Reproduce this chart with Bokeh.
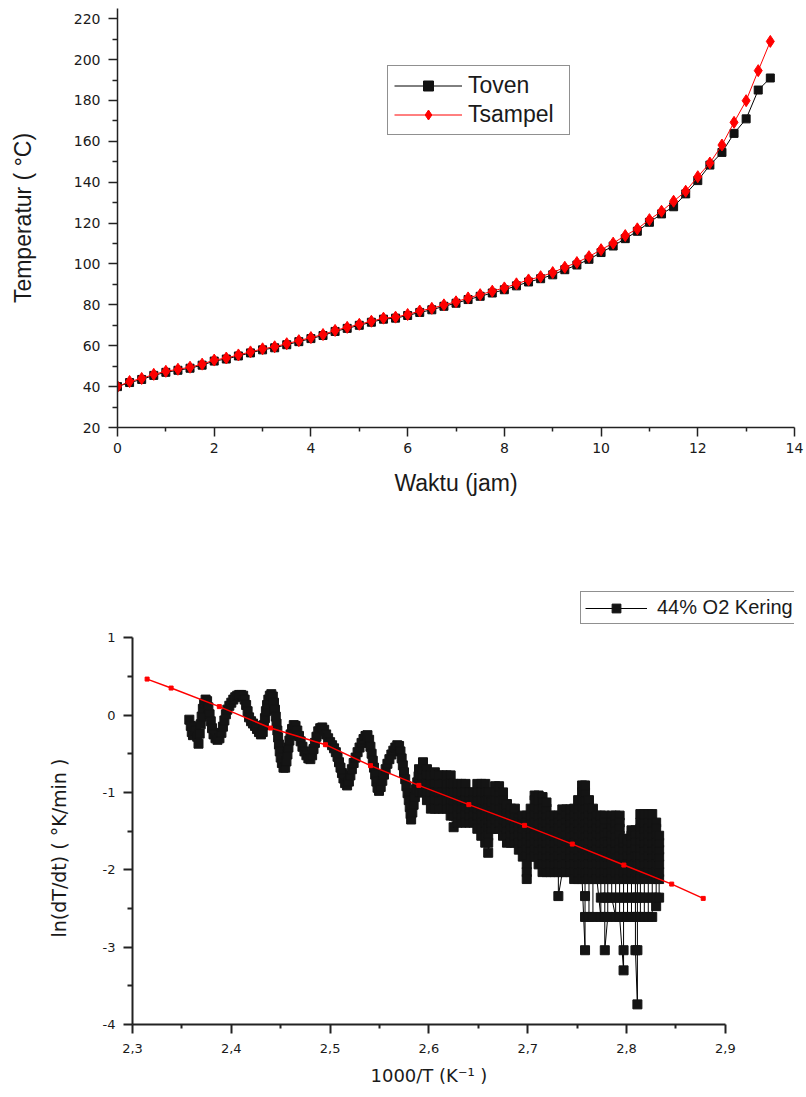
from bokeh.plotting import figure
from bokeh.models import Range1d, FixedTicker, Legend, LegendItem, CustomJSTickFormatter, Title
from bokeh.layouts import column
from bokeh.embed import file_html
from bokeh.resources import INLINE

# ---------------- top chart data ----------------
waktu = [0.0, 0.25, 0.5, 0.75, 1.0, 1.25, 1.5, 1.75, 2.0, 2.25, 2.5, 2.75, 3.0, 3.25, 3.5, 3.75,
         4.0, 4.25, 4.5, 4.75, 5.0, 5.25, 5.5, 5.75, 6.0, 6.25, 6.5, 6.75, 7.0, 7.25, 7.5, 7.75,
         8.0, 8.25, 8.5, 8.75, 9.0, 9.25, 9.5, 9.75, 10.0, 10.25, 10.5, 10.75, 11.0, 11.25, 11.5,
         11.75, 12.0, 12.25, 12.5, 12.75, 13.0, 13.25, 13.5]
toven = [40.0, 42.0, 43.5, 45.5, 47.0, 48.0, 49.0, 50.5, 52.5, 53.5, 55.0, 56.5, 58.0, 59.0, 60.5,
         62.0, 63.5, 65.0, 67.0, 68.5, 70.0, 71.5, 73.0, 73.5, 74.8, 76.3, 77.6, 79.3, 80.8, 82.6,
         84.2, 85.8, 87.4, 89.3, 91.2, 92.8, 94.7, 97.2, 99.5, 102.3, 105.6, 108.8, 112.4, 116.0,
         120.4, 124.5, 128.0, 134.3, 140.8, 148.4, 154.6, 163.9, 171.0, 185.1, 191.0]
tsampel = [40.0, 42.5, 44.0, 46.0, 47.5, 48.5, 49.5, 51.0, 53.0, 54.0, 55.5, 57.0, 58.5, 59.5, 61.0,
           62.5, 64.0, 65.5, 67.5, 69.0, 70.5, 72.0, 73.5, 74.0, 75.3, 77.0, 78.3, 80.0, 81.5, 83.4,
           85.0, 86.7, 88.3, 90.3, 92.2, 93.8, 95.8, 98.4, 100.7, 103.6, 107.0, 110.2, 113.9, 117.2,
           121.7, 125.8, 130.7, 135.6, 142.7, 149.4, 158.2, 169.3, 179.9, 194.6, 208.9]
top_xticks = [0, 2, 4, 6, 8, 10, 12, 14]
top_xminor = [1, 3, 5, 7, 9, 11, 13]
top_yticks = [20, 40, 60, 80, 100, 120, 140, 160, 180, 200, 220]
top_yminor = [30, 50, 70, 90, 110, 130, 150, 170, 190, 210]

# ---------------- bottom chart data ----------------
kering_left = [
    (2.3575, -0.06), (2.3590, -0.14), (2.3600, -0.22), (2.3612, -0.26), (2.3625, -0.15), (2.3640, -0.20),
    (2.3655, -0.28), (2.3668, -0.37), (2.3680, -0.24), (2.3690, -0.12), (2.3700, -0.02), (2.3712, 0.08),
    (2.3725, 0.15), (2.3740, 0.20), (2.3755, 0.18), (2.3768, 0.10), (2.3780, 0.01), (2.3792, -0.08),
    (2.3805, -0.17), (2.3820, -0.25), (2.3840, -0.30), (2.3860, -0.32), (2.3880, -0.30), (2.3900, -0.23),
    (2.3915, -0.15), (2.3930, -0.07), (2.3945, 0.01), (2.3960, 0.07), (2.3980, 0.12), (2.4000, 0.16),
    (2.4020, 0.20), (2.4040, 0.23), (2.4060, 0.25), (2.4080, 0.26), (2.4100, 0.26), (2.4120, 0.25),
    (2.4135, 0.20), (2.4150, 0.13), (2.4165, 0.05), (2.4180, -0.03), (2.4200, -0.08), (2.4220, -0.11),
    (2.4240, -0.14), (2.4260, -0.18), (2.4280, -0.22), (2.4300, -0.25), (2.4318, -0.22), (2.4330, -0.13),
    (2.4340, -0.04), (2.4350, 0.05), (2.4362, 0.13), (2.4375, 0.20), (2.4390, 0.25), (2.4405, 0.27),
    (2.4420, 0.24), (2.4432, 0.16), (2.4442, 0.07), (2.4450, -0.02), (2.4458, -0.11), (2.4466, -0.20),
    (2.4474, -0.29), (2.4482, -0.38), (2.4490, -0.47), (2.4500, -0.55), (2.4512, -0.62), (2.4528, -0.68),
    (2.4545, -0.68), (2.4558, -0.60), (2.4568, -0.51), (2.4578, -0.42), (2.4588, -0.33), (2.4600, -0.25),
    (2.4615, -0.18), (2.4632, -0.13), (2.4650, -0.14), (2.4668, -0.20), (2.4685, -0.27), (2.4702, -0.34),
    (2.4720, -0.41), (2.4740, -0.47), (2.4760, -0.52), (2.4780, -0.56), (2.4800, -0.57), (2.4818, -0.52),
    (2.4832, -0.44), (2.4846, -0.36), (2.4862, -0.28), (2.4880, -0.21), (2.4900, -0.17), (2.4920, -0.16),
    (2.4940, -0.19), (2.4960, -0.25), (2.4980, -0.30), (2.5000, -0.35), (2.5020, -0.39), (2.5040, -0.43),
    (2.5058, -0.48), (2.5075, -0.54), (2.5090, -0.61), (2.5105, -0.68), (2.5120, -0.75), (2.5135, -0.82),
    (2.5152, -0.88), (2.5172, -0.91), (2.5190, -0.86), (2.5205, -0.78), (2.5220, -0.70), (2.5238, -0.62),
    (2.5258, -0.55), (2.5278, -0.48), (2.5298, -0.42), (2.5318, -0.36), (2.5338, -0.31), (2.5358, -0.27),
    (2.5378, -0.26), (2.5395, -0.32), (2.5408, -0.41), (2.5420, -0.50), (2.5432, -0.59), (2.5444, -0.68),
    (2.5456, -0.77), (2.5468, -0.86), (2.5480, -0.94), (2.5495, -0.98), (2.5512, -0.93), (2.5528, -0.85),
    (2.5545, -0.77), (2.5562, -0.70), (2.5580, -0.63), (2.5600, -0.57), (2.5620, -0.51), (2.5640, -0.46),
    (2.5660, -0.42), (2.5680, -0.39), (2.5698, -0.40), (2.5712, -0.47), (2.5724, -0.56), (2.5736, -0.65),
    (2.5748, -0.74), (2.5760, -0.83), (2.5772, -0.92), (2.5784, -1.01), (2.5796, -1.10), (2.5806, -1.19),
    (2.5814, -1.28), (2.5820, -1.35), (2.5832, -1.26), (2.5845, -1.16), (2.5858, -1.06), (2.5870, -0.96),
    (2.5882, -0.87), (2.5895, -0.79),
]
# dense part: each entry is one 1000/T value with the successive ln(dT/dt) readings at it
kering_right_cols = [
    (2.590, [-0.70, -0.78, -0.89, -1.00]),
    (2.594, [-1.00, -0.89, -0.78, -0.70, -0.61]),
    (2.598, [-0.70, -0.78, -0.89, -1.00, -1.10]),
    (2.602, [-1.21, -1.10, -1.00, -0.89, -0.78]),
    (2.606, [-0.74, -0.89, -1.00, -1.10, -1.21]),
    (2.610, [-1.21, -1.10, -1.00, -0.89, -0.78]),
    (2.614, [-0.78, -0.89, -1.00, -1.10, -1.21]),
    (2.618, [-1.21, -1.10, -1.00, -0.89, -0.78]),
    (2.622, [-0.78, -0.89, -1.00, -1.10, -1.21, -1.30]),
    (2.625, [-1.45, -1.30, -1.21, -1.10, -1.00, -0.89]),
    (2.629, [-0.89, -1.00, -1.10, -1.21, -1.30, -1.39]),
    (2.633, [-1.39, -1.30, -1.21, -1.10, -1.00, -0.89]),
    (2.637, [-0.89, -1.00, -1.10, -1.21, -1.30, -1.39]),
    (2.641, [-1.39, -1.30, -1.21, -1.10, -1.00]),
    (2.645, [-1.00, -1.10, -1.21, -1.30, -1.39]),
    (2.649, [-1.47, -1.30, -1.21, -1.10, -1.00, -0.89]),
    (2.653, [-0.89, -1.00, -1.10, -1.21, -1.30, -1.39, -1.47, -1.56]),
    (2.657, [-1.65, -1.56, -1.47, -1.39, -1.30, -1.21, -1.10, -1.00, -0.89]),
    (2.660, [-1.00, -1.10, -1.21, -1.30, -1.39, -1.47, -1.56, -1.65, -1.78]),
    (2.663, [-1.47, -1.39, -1.30, -1.21, -1.13]),
    (2.667, [-0.92, -1.00, -1.10, -1.21, -1.30, -1.39, -1.47]),
    (2.671, [-1.47, -1.39, -1.30, -1.21, -1.10, -1.00, -0.92]),
    (2.675, [-1.00, -1.10, -1.21, -1.30, -1.39, -1.47, -1.56]),
    (2.679, [-1.65, -1.56, -1.47, -1.39, -1.30, -1.21, -1.15]),
    (2.683, [-1.21, -1.30, -1.39, -1.47, -1.56, -1.65]),
    (2.687, [-1.65, -1.56, -1.47, -1.39, -1.30, -1.21]),
    (2.691, [-1.34, -1.39, -1.47, -1.56, -1.65, -1.74]),
    (2.695, [-1.83, -1.74, -1.65, -1.56, -1.47, -1.39, -1.30]),
    (2.699, [-1.30, -1.39, -1.47, -1.56, -1.65, -1.74, -1.83, -1.93, -2.03, -2.12]),
    (2.703, [-1.83, -1.74, -1.65, -1.56, -1.47, -1.39, -1.30, -1.21]),
    (2.707, [-1.04, -1.10, -1.21, -1.30, -1.39, -1.47, -1.56, -1.65, -1.74, -1.83]),
    (2.711, [-1.93, -1.83, -1.74, -1.65, -1.56, -1.47, -1.39, -1.30, -1.21, -1.10, -1.04]),
    (2.715, [-1.06, -1.13, -1.21, -1.30, -1.39, -1.47, -1.56, -1.65, -1.74, -1.83, -1.93, -2.03]),
    (2.719, [-2.03, -1.93, -1.83, -1.74, -1.65, -1.56, -1.47, -1.39, -1.30, -1.21, -1.13]),
    (2.723, [-1.30, -1.39, -1.47, -1.56, -1.65, -1.74, -1.83, -1.93, -2.03]),
    (2.727, [-2.03, -1.93, -1.83, -1.74, -1.65, -1.56, -1.47, -1.39, -1.30]),
    (2.731, [-1.30, -1.39, -1.47, -1.56, -1.65, -1.74, -1.83, -1.93, -2.03, -2.34]),
    (2.735, [-2.03, -1.93, -1.83, -1.74, -1.65, -1.56, -1.47, -1.39, -1.30, -1.22]),
    (2.739, [-1.22, -1.30, -1.39, -1.47, -1.56, -1.65, -1.74, -1.83, -1.93, -2.03]),
    (2.743, [-2.03, -1.93, -1.83, -1.74, -1.65, -1.56, -1.47, -1.39, -1.30, -1.22]),
    (2.747, [-1.21, -1.30, -1.39, -1.47, -1.56, -1.65, -1.74, -1.83, -1.93, -2.03, -2.12]),
    (2.751, [-2.12, -2.03, -1.93, -1.83, -1.74, -1.65, -1.56, -1.47, -1.39, -1.30, -1.21, -1.10]),
    (2.755, [-0.91, -1.00, -1.10, -1.21, -1.30, -1.39, -1.47, -1.56, -1.65, -1.74, -1.83, -1.93, -2.03, -2.12]),
    (2.758, [-3.04, -2.61, -2.34, -2.12, -2.03, -1.93, -1.83, -1.74, -1.65, -1.56, -1.47, -1.39, -1.30,
             -1.21, -1.10, -1.00, -0.91]),
    (2.762, [-1.10, -1.21, -1.30, -1.39, -1.47, -1.56, -1.65, -1.74, -1.83, -1.93, -2.03, -2.12, -2.61]),
    (2.766, [-2.61, -2.12, -2.03, -1.93, -1.83, -1.74, -1.65, -1.56, -1.47, -1.39, -1.30, -1.21]),
    (2.770, [-1.30, -1.39, -1.47, -1.56, -1.65, -1.74, -1.83, -1.93, -2.03, -2.12]),
    (2.774, [-2.61, -2.36, -2.12, -2.03, -1.93, -1.83, -1.74, -1.65, -1.56, -1.47, -1.39, -1.30]),
    (2.778, [-1.30, -1.39, -1.47, -1.56, -1.65, -1.74, -1.83, -1.93, -2.03, -2.12, -2.36, -2.61, -3.04]),
    (2.781, [-2.61, -2.36, -2.12, -2.03, -1.93, -1.83, -1.74, -1.65, -1.56, -1.52]),
    (2.785, [-1.30, -1.39, -1.47, -1.56, -1.65, -1.74, -1.83, -1.93, -2.03, -2.12, -2.36]),
    (2.789, [-2.61, -2.36, -2.12, -2.03, -1.93, -1.83, -1.74, -1.65, -1.56, -1.47, -1.39, -1.30]),
    (2.793, [-1.30, -1.39, -1.47, -1.56, -1.65, -1.74, -1.83, -1.93, -2.03, -2.12, -2.36, -2.61]),
    (2.797, [-3.30, -3.04, -2.61, -2.36, -2.12, -2.03, -1.93, -1.83, -1.74, -1.65, -1.60]),
    (2.801, [-1.60, -1.65, -1.74, -1.83, -1.93, -2.03, -2.12, -2.36, -2.61]),
    (2.805, [-2.61, -2.36, -2.12, -2.03, -1.93, -1.83, -1.74, -1.65, -1.56, -1.49]),
    (2.809, [-1.49, -1.56, -1.65, -1.74, -1.83, -1.93, -2.03, -2.12, -2.36, -2.61, -3.04]),
    (2.811, [-3.74, -3.04, -2.61, -2.36, -2.12, -2.03, -1.93, -1.83]),
    (2.814, [-1.28, -1.39, -1.47, -1.56, -1.65, -1.74, -1.83, -1.93, -2.03, -2.12, -2.36, -2.61]),
    (2.818, [-2.61, -2.36, -2.12, -2.03, -1.93, -1.83, -1.74, -1.65, -1.56, -1.47, -1.39, -1.28]),
    (2.822, [-1.28, -1.39, -1.47, -1.56, -1.65, -1.74, -1.83, -1.93, -2.03, -2.36, -2.61]),
    (2.826, [-2.61, -2.36, -2.12, -2.03, -1.93, -1.83, -1.74, -1.65, -1.56, -1.47, -1.39, -1.28]),
    (2.830, [-1.39, -1.47, -1.56, -1.65, -1.74, -1.83, -1.93, -2.03, -2.12, -2.36, -2.47]),
    (2.833, [-2.36, -2.12, -2.03, -1.93, -1.83, -1.74, -1.65, -1.56]),
]
fit_x = [2.3148, 2.3391, 2.3879, 2.4397, 2.4953, 2.5409, 2.5898, 2.6404, 2.6968, 2.7451, 2.7973, 2.8457, 2.8776]
fit_y = [0.465, 0.349, 0.109, -0.168, -0.383, -0.654, -0.909, -1.158, -1.426, -1.668, -1.939, -2.185, -2.370]
bot_xticks = [2.3, 2.4, 2.5, 2.6, 2.7, 2.8, 2.9]
bot_xminor = [2.35, 2.45, 2.55, 2.65, 2.75, 2.85]
bot_yticks = [-4, -3, -2, -1, 0, 1]
bot_yminor = [-3.5, -2.5, -1.5, -0.5, 0.5]

inv_T = [pt[0] for pt in kering_left]
ln_rate = [pt[1] for pt in kering_left]
for cx, levels in kering_right_cols:
    for lv in levels:
        inv_T.append(cx)
        ln_rate.append(lv)

TXT = "#1a1a1a"
SANS = "Liberation Sans"


def style_axis(ax, size, tick_out, minor_out, lbl_standoff, axis_standoff, lw, label_font, label_size):
    ax.axis_line_color = "#222222"
    ax.axis_line_width = lw
    ax.major_tick_line_color = "#222222"
    ax.major_tick_line_width = lw
    ax.minor_tick_line_color = "#222222"
    ax.minor_tick_line_width = lw
    ax.major_tick_in = 0
    ax.major_tick_out = tick_out
    ax.minor_tick_in = 0
    ax.minor_tick_out = minor_out
    ax.major_label_text_font = "DejaVu Sans"
    ax.major_label_text_font_size = size
    ax.major_label_text_color = TXT
    ax.major_label_standoff = lbl_standoff
    ax.axis_label_text_font = label_font
    ax.axis_label_text_font_size = label_size
    ax.axis_label_text_font_style = "normal"
    ax.axis_label_text_color = TXT
    ax.axis_label_standoff = axis_standoff


# ---------------- top figure ----------------
p1 = figure(width=804, height=500, x_range=Range1d(0, 14), y_range=Range1d(20, 225),
            output_backend="svg", toolbar_location=None,
            min_border_left=117, min_border_right=10, min_border_top=8, min_border_bottom=73)
p1.outline_line_color = None
p1.xgrid.visible = False
p1.ygrid.visible = False

l_ov = p1.line(waktu, toven, line_color="black", line_width=1)
s_ov = p1.scatter(waktu, toven, marker="square", size=8, fill_color="#111111", line_color="#111111")
l_sa = p1.line(waktu, tsampel, line_color="#ff0000", line_width=1)
s_sa = p1.scatter(waktu, tsampel, marker="diamond", size=12, fill_color="#ff0000", line_color="#ff0000")

p1.xaxis.ticker = FixedTicker(ticks=top_xticks, minor_ticks=top_xminor)
p1.yaxis.ticker = FixedTicker(ticks=top_yticks, minor_ticks=top_yminor)
p1.xaxis.axis_label = "Waktu (jam)"
p1.yaxis.axis_label = "Temperatur ( °C)"
style_axis(p1.xaxis[0], "14px", 9, 4, 6, 14, 1.5, SANS, "23px")
style_axis(p1.yaxis[0], "14px", 9, 5, 8, 35, 1.5, SANS, "23px")

leg1 = Legend(items=[LegendItem(label="Toven", renderers=[l_ov, s_ov]),
                     LegendItem(label="Tsampel", renderers=[l_sa, s_sa])],
              location=(270, 292))
leg1.label_text_font = SANS
leg1.label_text_font_size = "23px"
leg1.label_text_color = TXT
leg1.glyph_width = 68
leg1.glyph_height = 25
leg1.label_height = 25
leg1.label_width = 95
leg1.label_standoff = 6
leg1.padding = 6
leg1.spacing = 2
leg1.margin = 0
leg1.border_line_color = "#222222"
leg1.border_line_width = 1.2
leg1.background_fill_color = "white"
leg1.background_fill_alpha = 1
p1.add_layout(leg1)

# ---------------- bottom figure ----------------
p2 = figure(width=789, height=595, x_range=Range1d(2.3, 2.970), y_range=Range1d(-4, 1.61),
            output_backend="svg", toolbar_location=None, margin=(0, 0, 0, 15),
            min_border_left=117, min_border_right=10, min_border_top=90, min_border_bottom=71)
p2.outline_line_color = None
p2.xgrid.visible = False
p2.ygrid.visible = False

l_k = p2.line(inv_T, ln_rate, line_color="black", line_width=1)
s_k = p2.scatter(inv_T, ln_rate, marker="square", size=9, fill_color="#141414", line_color="#141414")
p2.line(fit_x, fit_y, line_color="#ff0000", line_width=1.5)
p2.scatter(fit_x, fit_y, marker="square", size=4, fill_color="#ff0000", line_color="#ff0000")

p2.xaxis.ticker = FixedTicker(ticks=bot_xticks, minor_ticks=bot_xminor)
p2.yaxis.ticker = FixedTicker(ticks=bot_yticks, minor_ticks=bot_yminor)
p2.xaxis.formatter = CustomJSTickFormatter(code="return tick.toFixed(1).replace('.', ',');")
p2.yaxis.formatter = CustomJSTickFormatter(code="return tick.toFixed(0);")
p2.xaxis.bounds = (2.3, 2.9)
p2.yaxis.bounds = (-4, 1)
style_axis(p2.xaxis[0], "13px", 9, 4, 10, 16, 2, "DejaVu Sans", "18px")
style_axis(p2.yaxis[0], "13px", 9, 5, 8, 34, 2, "DejaVu Sans", "19px")

# axis titles centred on the drawn axis spans (2.3-2.9 and -4..1), as in the original
x_title = Title(text="1000/T (K\u207b\u00b9 )", align="left", offset=238, standoff=14,
                text_font="DejaVu Sans", text_font_size="18px", text_font_style="normal",
                text_color=TXT)
y_title = Title(text="ln(dT/dt) ( °K/min )", align="left", offset=87, standoff=60,
                text_font="DejaVu Sans", text_font_size="19px", text_font_style="normal",
                text_color=TXT)
p2.add_layout(x_title, "below")
p2.add_layout(y_title, "left")

leg2 = Legend(items=[LegendItem(label="44% O2 Kering", renderers=[l_k, s_k])],
              location=(448, 400))
leg2.label_text_font = SANS
leg2.label_text_font_size = "20px"
leg2.label_text_color = TXT
leg2.glyph_width = 62
leg2.glyph_height = 22
leg2.label_height = 22
leg2.label_width = 148
leg2.label_standoff = 10
leg2.padding = 4
leg2.margin = 0
leg2.border_line_color = "#222222"
leg2.border_line_width = 1.5
leg2.background_fill_color = "white"
leg2.background_fill_alpha = 1
p2.add_layout(leg2)

layout = column(p1, p2, spacing=0)
open("out.html", "w").write(file_html(layout, INLINE))
